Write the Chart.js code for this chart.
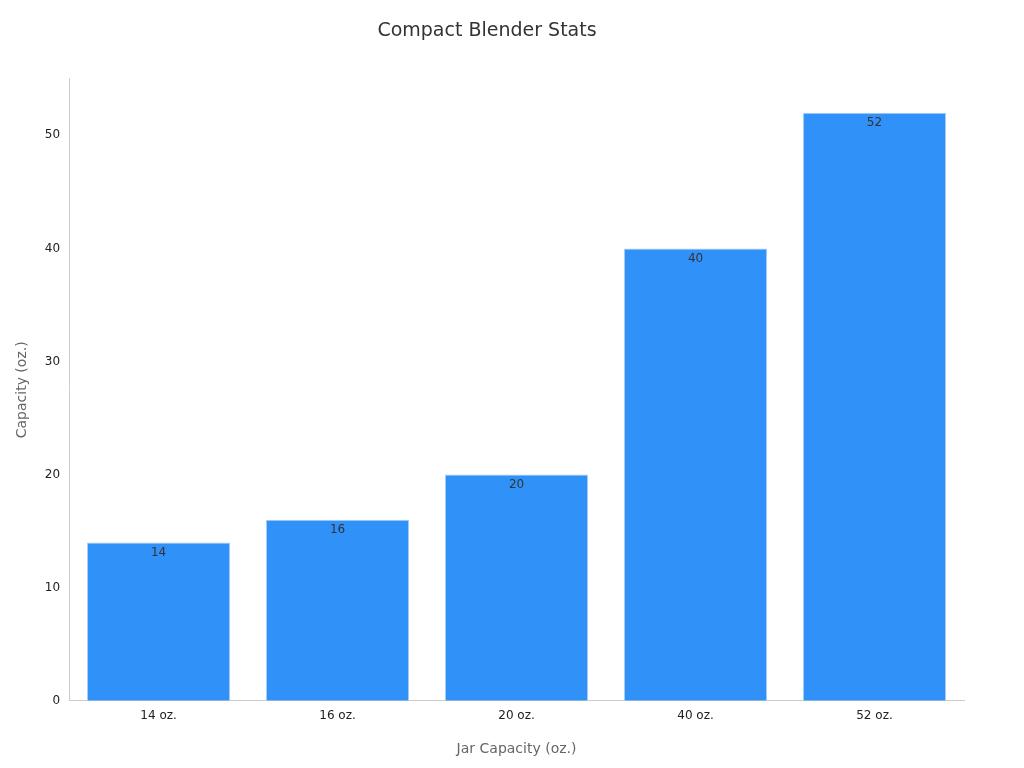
<!DOCTYPE html>
<html>
<head>
<meta charset="utf-8">
<script src="https://cdn.jsdelivr.net/npm/chart.js@4/dist/chart.umd.min.js"></script>
<style>
  html, body { margin: 0; padding: 0; background: #fff; }
</style>
</head>
<body>
<canvas id="chart" width="1024" height="768"></canvas>
<script>
// data
const categories = ['14 oz.', '16 oz.', '20 oz.', '40 oz.', '52 oz.'];
const capacities = [14, 16, 20, 40, 52];
const yTicks = [0, 10, 20, 30, 40, 50];

const FONT = 'DejaVu Sans';

// value labels just inside the top of each bar
const barLabels = {
  id: 'barLabels',
  afterDatasetsDraw(chart) {
    const ctx = chart.ctx;
    const meta = chart.getDatasetMeta(0);
    ctx.save();
    ctx.fillStyle = '#333';
    ctx.font = `12px "${FONT}"`;
    ctx.textAlign = 'center';
    ctx.textBaseline = 'top';
    meta.data.forEach((bar, i) => {
      ctx.fillText(String(capacities[i]), bar.x, bar.y + 4);
    });
    ctx.restore();
  }
};

new Chart(document.getElementById('chart'), {
  type: 'bar',
  data: {
    labels: categories,
    datasets: [{
      data: capacities,
      backgroundColor: '#3091f8',
      borderColor: '#a9cdf5',
      borderWidth: 1,
      categoryPercentage: 0.8,
      barPercentage: 1.0
    }]
  },
  options: {
    responsive: false,
    animation: false,
    layout: { padding: { top: 10, right: 60, bottom: 6, left: 10 } },
    plugins: {
      legend: { display: false },
      tooltip: { enabled: false },
      title: {
        display: true,
        text: 'Compact Blender Stats',
        color: '#333',
        font: { family: FONT, size: 19, weight: 'normal' },
        padding: { top: 10, bottom: 36 }
      }
    },
    scales: {
      x: {
        grid: { display: false, drawTicks: false },
        border: { color: '#ccc' },
        ticks: { color: '#222', font: { family: FONT, size: 12 }, padding: 8 },
        title: {
          display: true, text: 'Jar Capacity (oz.)', color: '#666',
          font: { family: FONT, size: 14 }, padding: { top: 10 }
        }
      },
      y: {
        min: 0, max: 55,
        afterBuildTicks(axis) { axis.ticks = yTicks.map(v => ({ value: v })); },
        grid: { display: false, drawTicks: true, tickLength: 5, tickColor: '#888' },
        border: { color: '#ccc' },
        ticks: { color: '#222', font: { family: FONT, size: 12 }, padding: 4 },
        title: {
          display: true, text: 'Capacity (oz.)', color: '#666',
          font: { family: FONT, size: 14 }, padding: { bottom: 10 }
        }
      }
    }
  },
  plugins: [barLabels]
});
</script>
</body>
</html>
